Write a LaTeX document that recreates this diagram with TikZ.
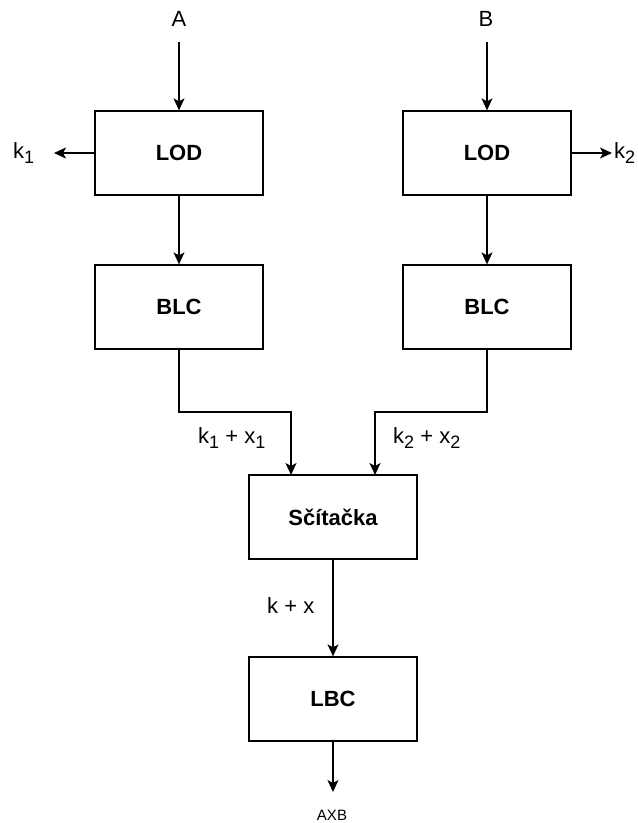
\documentclass[tikz,border=0pt]{standalone}
\usepackage{fontspec}
\setmainfont{Liberation Sans}
\usetikzlibrary{arrows.meta}
\newcommand\lowidx[1]{\raisebox{-5pt}{\fontsize{18}{18}\selectfont #1}}
\begin{document}
\begin{tikzpicture}[x=1pt,y=-1pt,
  block/.style={draw, line width=1.3pt, minimum width=168pt, minimum height=84pt,
    inner sep=0pt, font=\fontsize{22}{26}\selectfont\bfseries},
  lbl/.style={inner sep=0pt, font=\fontsize{22}{26}\selectfont},
  flow/.style={draw, line width=1.3pt, -{Stealth[length=12pt,width=11pt,inset=3pt]}}]
\useasboundingbox (0,0) rectangle (638,823);
% blocks
\node[block] (lod1) at (179,153) {LOD};
\node[block] (lod2) at (487,153) {LOD};
\node[block] (blc1) at (179,307) {BLC};
\node[block] (blc2) at (487,307) {BLC};
\node[block] (sum)  at (333,517) {Sčítačka};
\node[block] (lbc)  at (333,699) {LBC};
% inputs and outputs
\node[lbl, anchor=base] (a) at (179,26) {A};
\node[lbl, anchor=base] (b) at (486,26) {B};
\coordinate (ain) at (179,42);
\coordinate (bin) at (487,42);
\coordinate (k1end) at (54,153);
\coordinate (k2end) at (612,153);
\node[lbl, anchor=base west] (k1) at (13,158) {k\lowidx{1}};
\node[lbl, anchor=base west] (k2) at (614,158) {k\lowidx{2}};
\coordinate (outend) at (333,792);
\node[inner sep=0pt, anchor=base, font=\fontsize{15}{18}\selectfont] (axb) at (332,820) {AXB};
% connectors
\draw[flow] (ain) -- (lod1.north);
\draw[flow] (bin) -- (lod2.north);
\draw[flow] (lod1.west) -- (k1end);
\draw[flow] (lod2.east) -- (k2end);
\draw[flow] (lod1.south) -- (blc1.north);
\draw[flow] (lod2.south) -- (blc2.north);
\draw[flow] (blc1.south) -- (179,412) -- (291,412) -- (291,475);
\draw[flow] (blc2.south) -- (487,412) -- (375,412) -- (375,475);
\draw[flow] (sum.south) -- (lbc.north);
\draw[flow] (lbc.south) -- (outend);
% connector labels
\node[lbl, anchor=base west] (l1) at (198,443) {k\lowidx{1} + x\lowidx{1}};
\node[lbl, anchor=base west] (l2) at (393,443) {k\lowidx{2} + x\lowidx{2}};
\node[lbl, anchor=base west] (l3) at (267,613) {k + x};
\end{tikzpicture}
\end{document}
